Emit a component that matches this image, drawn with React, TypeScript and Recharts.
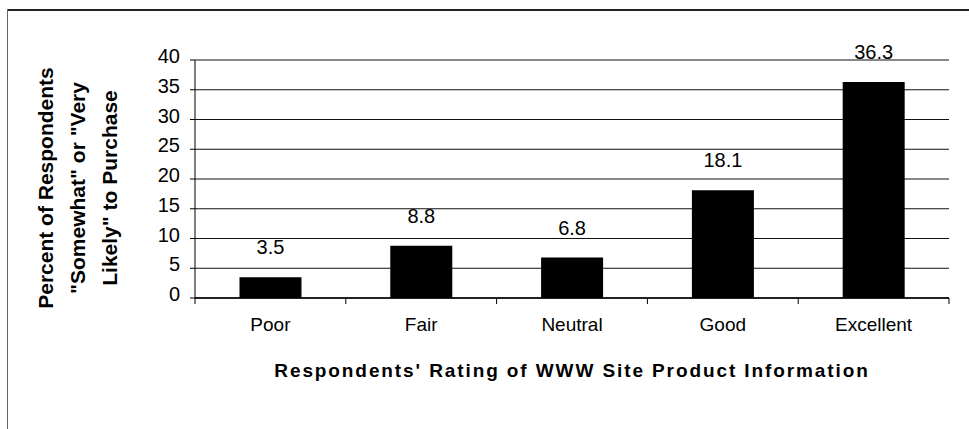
import { BarChart, Bar, XAxis, YAxis, CartesianGrid, LabelList } from 'recharts';

const ratings = ['Poor', 'Fair', 'Neutral', 'Good', 'Excellent'];
const percentLikely = [3.5, 8.8, 6.8, 18.1, 36.3];
const yTicks = [0, 5, 10, 15, 20, 25, 30, 35, 40];
const yTitleLines = ['Percent of Respondents', '"Somewhat" or "Very', 'Likely" to Purchase'];
const xTitle = "Respondents' Rating of WWW Site Product Information";

const data = ratings.map((name, i) => ({ name, value: percentLikely[i] }));

const FONT = '"Liberation Sans", Arial, sans-serif';

const YTick = ({ x, y, payload }: any) => (
  <text x={x} y={y - 4} dy="0.355em" textAnchor="end" fontSize={20} fontFamily={FONT} fill="#000">
    {payload.value}
  </text>
);

// category label plus the small tick marks on the category boundaries
const XTick = ({ x, y, payload, index, visibleTicksCount }: any) => {
  const half = payload.offset || 0;
  const axisY = y - 20;
  return (
    <g>
      <line x1={x - half} x2={x - half} y1={axisY} y2={axisY + 6} stroke="#000" />
      {index === visibleTicksCount - 1 && (
        <line x1={x + half} x2={x + half} y1={axisY} y2={axisY + 6} stroke="#000" />
      )}
      <text x={x} y={y} dy="0.71em" textAnchor="middle" fontSize={19} fontFamily={FONT} fill="#000">
        {payload.value}
      </text>
    </g>
  );
};

const YTitle = ({ viewBox }: any) => {
  const cy = viewBox.y + viewBox.height / 2 + 9;
  return (
    <g>
      {yTitleLines.map((line, i) => {
        const x = 53 + i * 32;
        return (
          <text
            key={i}
            x={x}
            y={cy}
            transform={`rotate(-90 ${x} ${cy})`}
            textAnchor="middle"
            fontSize={21}
            fontWeight="bold"
            fontFamily={FONT}
            fill="#000"
          >
            {line}
          </text>
        );
      })}
    </g>
  );
};

const XTitle = ({ viewBox }: any) => (
  <text
    x={viewBox.x + viewBox.width / 2}
    y={viewBox.y + 79}
    textAnchor="middle"
    fontSize={19}
    fontWeight="bold"
    letterSpacing={1.9}
    fontFamily={FONT}
    fill="#000"
  >
    {xTitle}
  </text>
);

export default function App() {
  return (
    <div style={{ position: 'absolute', left: 0, top: 0, width: 969, height: 429, background: '#fff' }}>
      <div style={{ position: 'absolute', left: 7, top: 9, right: 0, height: 2, background: '#222' }} />
      <div style={{ position: 'absolute', left: 7, top: 9, bottom: 0, width: 1, background: '#666' }} />
      <BarChart
        width={969}
        height={429}
        data={data}
        margin={{ top: 60, right: 20, bottom: 0, left: 0 }}
        barCategoryGap="29.5%"
        style={{ position: 'absolute', left: 0, top: 0 }}
      >
        <CartesianGrid vertical={false} stroke="#111" strokeWidth={1.2} yAxisId="left" />
        <XAxis
          dataKey="name"
          height={131}
          tickLine={false}
          tickSize={6}
          tickMargin={14}
          interval={0}
          axisLine={{ stroke: '#000', strokeWidth: 1.5 }}
          tick={<XTick />}
          label={<XTitle />}
        />
        <YAxis
          yAxisId="left"
          domain={[0, 40]}
          ticks={yTicks}
          width={195}
          tickSize={5}
          tickMargin={10}
          axisLine={{ stroke: '#000' }}
          tickLine={{ stroke: '#000' }}
          tick={<YTick />}
          label={<YTitle />}
        />
        <YAxis
          yAxisId="right"
          orientation="right"
          domain={[0, 40]}
          width={0}
          tick={false}
          tickLine={false}
          axisLine={{ stroke: '#000' }}
        />
        <Bar dataKey="value" yAxisId="left" fill="#000" isAnimationActive={false}>
          <LabelList dataKey="value" position="top" offset={23} fontSize={20} fontFamily={FONT} fill="#000" />
        </Bar>
      </BarChart>
    </div>
  );
}
